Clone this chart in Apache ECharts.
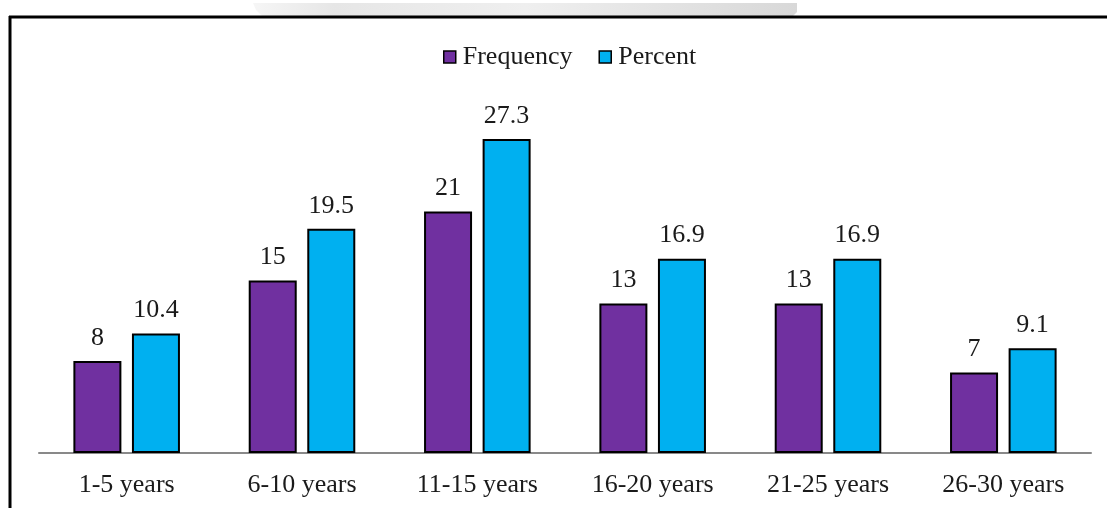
<!DOCTYPE html>
<html>
<head>
<meta charset="utf-8">
<style>
  html, body { margin: 0; padding: 0; background: #fff; }
  #chart { width: 1107px; height: 508px; }
</style>
<script src="https://cdn.jsdelivr.net/npm/echarts@6/dist/echarts.min.js"></script>
</head>
<body>
<div id="chart"></div>
<script>
// Years of experience, count and share of respondents
const categories = ['1-5 years', '6-10 years', '11-15 years', '16-20 years', '21-25 years', '26-30 years'];
const frequency = [8, 15, 21, 13, 13, 7];
const percent = [10.4, 19.5, 27.3, 16.9, 16.9, 9.1];

const FONT = '"Liberation Serif", "Times New Roman", serif';
const TEXT = '#1a1a1a';

const chart = echarts.init(document.getElementById('chart'), null, { renderer: 'canvas' });

const barLabel = {
  show: true,
  position: 'top',
  distance: 10,
  fontFamily: FONT,
  fontSize: 26,
  color: TEXT
};

chart.setOption({
  animation: false,
  backgroundColor: '#fff',
  textStyle: { fontFamily: FONT },
  graphic: [
    // soft grey shading above the frame
    {
      type: 'polygon',
      shape: { points: [[253, 3], [797, 3], [797, 12], [793, 16], [262, 16], [256, 10]] },
      style: {
        fill: new echarts.graphic.LinearGradient(0, 0, 1, 0, [
          { offset: 0, color: '#f6f6f6' },
          { offset: 0.15, color: '#e6e6e6' },
          { offset: 0.5, color: '#efefef' },
          { offset: 1, color: '#d8d8d8' }
        ])
      },
      silent: true
    },
    // frame edges
    { type: 'line', shape: { x1: 9, y1: 17, x2: 1107, y2: 17 }, style: { stroke: '#000', lineWidth: 3 }, silent: true },
    { type: 'line', shape: { x1: 10, y1: 16, x2: 10, y2: 508 }, style: { stroke: '#000', lineWidth: 3 }, silent: true }
  ],
  legend: {
    top: 44,
    left: 443,
    padding: 0,
    itemWidth: 12,
    itemHeight: 12,
    itemGap: 26,
    icon: 'rect',
    textStyle: { fontFamily: FONT, fontSize: 26, color: TEXT, padding: [0, 0, 0, 2] },
    data: [
      { name: 'Frequency', itemStyle: { color: '#7030A0', borderColor: '#000', borderWidth: 1.5 } },
      { name: 'Percent', itemStyle: { color: '#00B0F0', borderColor: '#000', borderWidth: 1.5 } }
    ]
  },
  grid: { left: 39, right: 16, top: 108, bottom: 55, containLabel: false },
  xAxis: {
    type: 'category',
    data: categories,
    axisLine: { show: true, lineStyle: { color: '#898989', width: 2 } },
    axisTick: { show: false },
    axisLabel: { fontFamily: FONT, fontSize: 26, color: TEXT, margin: 19 }
  },
  yAxis: {
    type: 'value',
    min: 0,
    max: 30,
    show: false,
    splitLine: { show: false }
  },
  series: [
    {
      name: 'Frequency',
      type: 'bar',
      data: frequency,
      barWidth: 48,
      barGap: '22%',
      itemStyle: { color: '#7030A0', borderColor: '#000', borderWidth: 2 },
      label: barLabel
    },
    {
      name: 'Percent',
      type: 'bar',
      data: percent,
      barWidth: 48,
      itemStyle: { color: '#00B0F0', borderColor: '#000', borderWidth: 2 },
      label: barLabel
    }
  ]
});
</script>
</body>
</html>
